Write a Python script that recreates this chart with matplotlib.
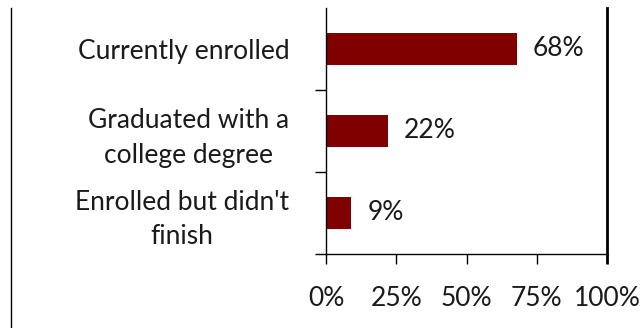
import matplotlib
matplotlib.use("Agg")
import matplotlib.pyplot as plt
from matplotlib.lines import Line2D

plt.rcParams['font.family'] = ['Lato', 'DejaVu Sans']

## 데이터
categories = ["Enrolled but didn't\nfinish", "Graduated with a\ncollege degree", "Currently enrolled"]
values = [0.09, 0.22, 0.68]
value_labels = ["9%", "22%", "68%"]
x_ticks = [0, 0.25, 0.5, 0.75, 1.0]
x_tick_labels = ["0%", "25%", "50%", "75%", "100%"]

FONT_SIZE = 19
TEXT_COLOR = '#1a1a1a'
BAR_COLOR = '#800000'

fig = plt.figure(figsize=(6.43, 3.28), dpi=100)
ax = fig.add_axes([326 / 643, 1 - 254 / 328, 281 / 643, 246 / 328])

## 막대 그리는 부분
y_pos = list(range(len(categories)))
bars = ax.barh(y_pos, values, height=0.4, color=BAR_COLOR)

for bar, txt in zip(bars, value_labels):
    ax.annotate(txt, (bar.get_width(), bar.get_y() + bar.get_height() / 2),
                xytext=(11.5, 0), textcoords='offset points',
                ha='left', va='center', fontsize=FONT_SIZE, color=TEXT_COLOR)

## 축 설정
ax.set_xlim(0, 1)
ax.set_ylim(-0.5, len(categories) - 0.5)

ax.set_xticks(x_ticks)
ax.set_xticklabels(x_tick_labels, fontsize=FONT_SIZE, color=TEXT_COLOR)
ax.tick_params(axis='x', direction='out', length=7.2, width=1, pad=16)
# 오른쪽 굵은 선이 100% 눈금까지 이어지게
ax.xaxis.get_major_ticks()[-1].tick1line.set_markeredgewidth(2)

# 카테고리 경계에 눈금, 라벨은 가운데(minor)에
ax.set_yticks([-0.5, 0.5, 1.5])
ax.set_yticklabels([])
ax.tick_params(axis='y', which='major', direction='out', length=8, width=1)
ax.set_yticks(y_pos, minor=True)
ax.set_yticklabels(categories, minor=True, fontsize=FONT_SIZE, color=TEXT_COLOR,
                   ha='right', multialignment='center', linespacing=1.45)
ax.tick_params(axis='y', which='minor', length=0, pad=26.5)

ax.spines['top'].set_visible(False)
ax.spines['right'].set_linewidth(2)
ax.spines['left'].set_linewidth(1)
ax.spines['bottom'].set_linewidth(1)

## 왼쪽 테두리 선
fig.add_artist(Line2D([10.5 / 643, 10.5 / 643], [0, 1 - 8 / 328],
                      transform=fig.transFigure, color='black', lw=1))

fig.savefig('out.png', dpi=100)
